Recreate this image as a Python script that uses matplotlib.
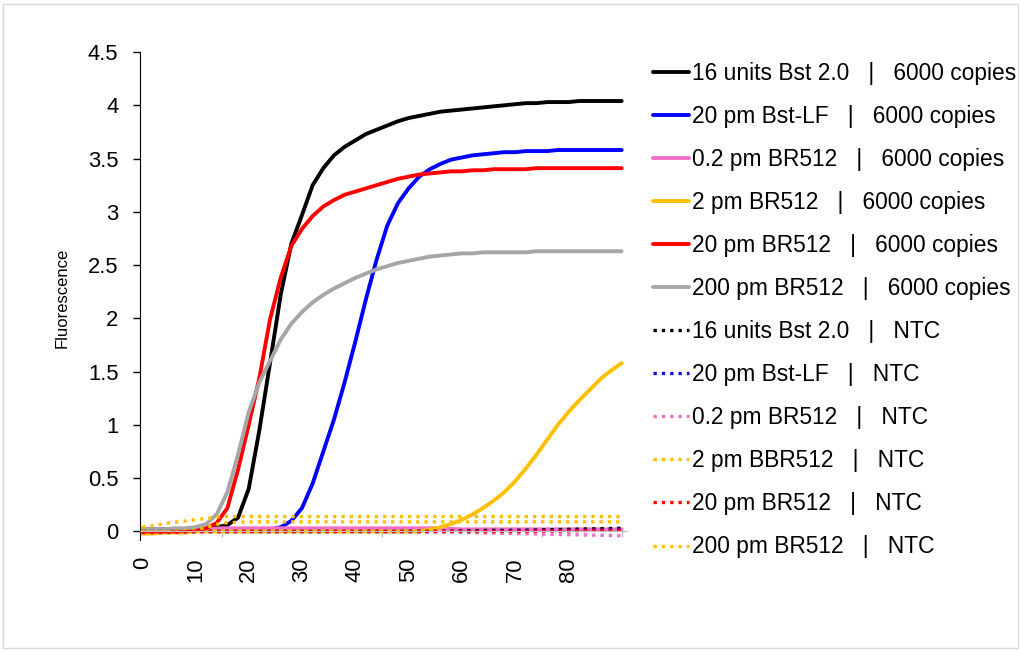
import numpy as np
import matplotlib
matplotlib.use("Agg")
import matplotlib.pyplot as plt
from matplotlib.patches import Rectangle

plt.rcParams['font.family'] = ['Liberation Sans', 'DejaVu Sans']

# cycles for the amplification curves (every 2nd reading)
cycles = list(range(0, 91, 2))
# coarser grid for the nearly flat traces
cycles_flat = list(range(0, 91, 5))

bst20_6000 = [0.00, 0.00, 0.00, 0.01, 0.01, 0.01, 0.02, 0.04, 0.06, 0.13,
              0.40, 0.95, 1.58, 2.22, 2.70, 2.97, 3.25, 3.41, 3.53, 3.61,
              3.67, 3.73, 3.77, 3.81, 3.85, 3.88, 3.90, 3.92, 3.94, 3.95,
              3.96, 3.97, 3.98, 3.99, 4.00, 4.01, 4.02, 4.02, 4.03, 4.03,
              4.03, 4.04, 4.04, 4.04, 4.04, 4.04]
bstlf_6000 = [0.02, 0.02, 0.02, 0.02, 0.02, 0.02, 0.02, 0.02, 0.02, 0.02,
              0.02, 0.02, 0.02, 0.04, 0.10, 0.22, 0.45, 0.75, 1.05, 1.40,
              1.78, 2.18, 2.55, 2.87, 3.08, 3.22, 3.33, 3.40, 3.45, 3.49,
              3.51, 3.53, 3.54, 3.55, 3.56, 3.56, 3.57, 3.57, 3.57, 3.58,
              3.58, 3.58, 3.58, 3.58, 3.58, 3.58]
br02_6000 = [0.02, 0.02, 0.02, 0.03, 0.03, 0.03, 0.03, 0.03, 0.03, 0.03,
             0.03, 0.03, 0.02, 0.02, 0.02, 0.02, 0.02, 0.02, 0.02]
br2_6000 = [-0.02, -0.02, -0.01, -0.01, -0.01, 0.00, 0.00, 0.00, 0.00, 0.00,
            0.00, 0.00, 0.00, 0.00, 0.00, 0.00, 0.00, 0.00, 0.00, 0.00,
            0.00, 0.00, 0.00, 0.00, 0.00, 0.00, 0.00, 0.02, 0.04, 0.07,
            0.11, 0.16, 0.22, 0.29, 0.37, 0.47, 0.59, 0.72, 0.86, 1.00,
            1.12, 1.23, 1.33, 1.43, 1.51, 1.58]
br20_6000 = [0.00, 0.00, 0.00, 0.00, 0.01, 0.01, 0.03, 0.08, 0.22, 0.58,
             1.00, 1.44, 1.99, 2.38, 2.68, 2.84, 2.96, 3.05, 3.11, 3.16,
             3.19, 3.22, 3.25, 3.28, 3.31, 3.33, 3.35, 3.36, 3.37, 3.38,
             3.38, 3.39, 3.39, 3.40, 3.40, 3.40, 3.40, 3.41, 3.41, 3.41,
             3.41, 3.41, 3.41, 3.41, 3.41, 3.41]
br200_6000 = [0.02, 0.02, 0.02, 0.03, 0.03, 0.04, 0.07, 0.16, 0.37, 0.72,
              1.12, 1.40, 1.60, 1.80, 1.95, 2.06, 2.15, 2.22, 2.28, 2.33,
              2.38, 2.42, 2.46, 2.49, 2.52, 2.54, 2.56, 2.58, 2.59, 2.60,
              2.61, 2.61, 2.62, 2.62, 2.62, 2.62, 2.62, 2.63, 2.63, 2.63,
              2.63, 2.63, 2.63, 2.63, 2.63, 2.63]

bst20_ntc = [0.00, 0.00, 0.00, 0.00, 0.00, 0.00, 0.00, 0.00, 0.00, 0.00,
             0.00, 0.00, 0.005, 0.01, 0.01, 0.015, 0.02, 0.025, 0.03]
bstlf_ntc = [0.00, 0.00, 0.00, 0.00, 0.00, 0.00, 0.00, 0.00, 0.00, 0.00,
             0.00, 0.00, 0.00, 0.00, 0.005, 0.01, 0.01, 0.015, 0.02]
br02_ntc = [0.00, 0.00, 0.00, 0.00, 0.00, 0.00, 0.00, 0.00, 0.00, 0.00,
            -0.005, -0.005, -0.01, -0.015, -0.02, -0.025, -0.03, -0.035, -0.04]
br2_ntc = [0.00, 0.00, 0.01, 0.08, 0.09, 0.09, 0.09, 0.09, 0.09, 0.09,
           0.09, 0.09, 0.09, 0.09, 0.09, 0.09, 0.09, 0.09, 0.09]
br20_ntc = [-0.01, -0.01, 0.00, 0.00, 0.00, 0.00, 0.00, 0.00, 0.00, 0.00,
            0.00, 0.00, 0.00, 0.00, 0.00, 0.005, 0.005, 0.01, 0.01]
br200_ntc = [0.04, 0.08, 0.11, 0.14, 0.14, 0.14, 0.14, 0.14, 0.14, 0.14,
             0.14, 0.14, 0.14, 0.14, 0.14, 0.14, 0.14, 0.14, 0.14]

labels = ['16 units Bst 2.0   |   6000 copies',
          '20 pm Bst-LF   |   6000 copies',
          '0.2 pm BR512   |   6000 copies',
          '2 pm BR512   |   6000 copies',
          '20 pm BR512   |   6000 copies',
          '200 pm BR512   |   6000 copies',
          '16 units Bst 2.0   |   NTC',
          '20 pm Bst-LF   |   NTC',
          '0.2 pm BR512   |   NTC',
          '2 pm BBR512   |   NTC',
          '20 pm BR512   |   NTC',
          '200 pm BR512   |   NTC']

colors = ['#000000', '#0000FF', '#F06EC8', '#FFC000', '#FF0000', '#A6A6A6',
          '#000000', '#1010E0', '#F06EC8', '#FFC000', '#FF0000', '#FFC000']

solid = [(cycles, bst20_6000), (cycles, bstlf_6000), (cycles_flat, br02_6000),
         (cycles, br2_6000), (cycles, br20_6000), (cycles, br200_6000)]
dotted = [bst20_ntc, bstlf_ntc, br02_ntc, br2_ntc, br20_ntc, br200_ntc]

fig = plt.figure(figsize=(10.21, 6.52), dpi=100)
ax = fig.add_axes([140/1021, 1 - 540/652, 487/1021, 488/652])

for i, (xs, ys) in enumerate(solid):
    ax.plot(xs, ys, color=colors[i], lw=2.8, label=labels[i],
            solid_capstyle='round', clip_on=False)
for i, ys in enumerate(dotted):
    ax.plot(cycles_flat, ys, color=colors[6 + i], lw=2.4, ls=(0, (1, 1.5)),
            label=labels[6 + i], clip_on=False)

ax.set_xlim(-0.4, 91.0)
ax.set_ylim(-0.08, 4.5)
ax.spines['top'].set_visible(False)
ax.spines['right'].set_visible(False)
ax.spines['bottom'].set_position(('data', 0))
ax.spines['bottom'].set_color('#bfbfbf')
ax.spines['left'].set_color('#000000')

ax.set_yticks(np.arange(0, 4.51, 0.5))
ax.set_yticklabels(['0', '0.5', '1', '1.5', '2', '2.5', '3', '3.5', '4', '4.5'])
ax.tick_params(axis='y', direction='out', length=5, width=1, pad=10.5,
               labelsize=15.8, colors='#000000')

ax.set_xticks(range(0, 81, 10))
ax.set_xticklabels([str(v) for v in range(0, 81, 10)], rotation=90)
ax.set_xticks(range(0, 91, 15), minor=True)
ax.tick_params(axis='x', which='major', length=0, pad=18.5, labelsize=15.8)
ax.tick_params(axis='x', which='minor', direction='out', length=4,
               width=1, color='#bfbfbf')

fig.text(62/1021, 1 - 298/652, 'Fluorescence', rotation=90,
         ha='center', va='center', fontsize=12)

fig.legend(loc='upper left', bbox_to_anchor=(653/1021, 1 - 62/652),
           frameon=False, fontsize=16.4, borderpad=0, borderaxespad=0,
           handlelength=1.6, handletextpad=0.1, labelspacing=0.88)

fig.patches.append(Rectangle((3/1021, 4/652), 1015/1021, 644/652,
                             transform=fig.transFigure, fill=False,
                             edgecolor='#d9d9d9', lw=1))

fig.savefig('out.png', dpi=100)
